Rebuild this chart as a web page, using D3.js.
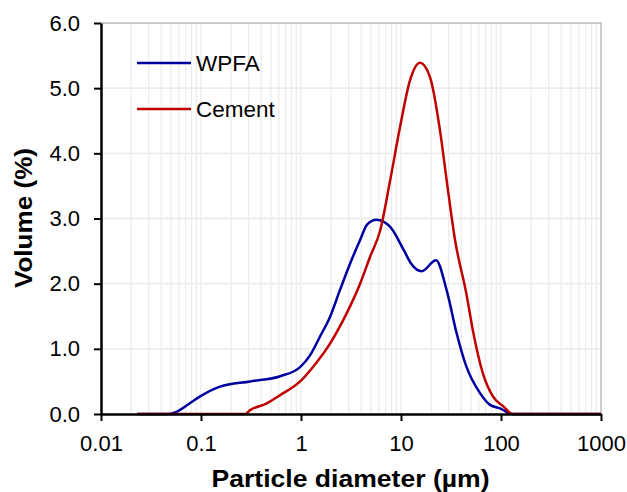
<!DOCTYPE html>
<html>
<head>
<meta charset="utf-8">
<script src="https://cdn.jsdelivr.net/npm/d3@7"></script>
<style>
  body { margin: 0; background: #fff; }
  text { font-family: "Liberation Sans", Arial, sans-serif; }
</style>
</head>
<body>
<div id="chart"></div>
<script>
// particle size distribution values
var wpfaSize = [0.023, 0.045, 0.056, 0.075, 0.098, 0.155, 0.31, 0.62, 0.98, 1.23, 1.55, 1.95, 2.45, 3.1, 3.9, 4.6, 5.7, 7.8, 10.7, 12.6, 16.1, 22.4, 28.6, 36, 45, 61.7, 77.6, 100, 130, 1000];
var wpfaVol  = [0, 0, 0.03, 0.15, 0.27, 0.42, 0.50, 0.58, 0.72, 0.90, 1.19, 1.49, 1.90, 2.31, 2.67, 2.91, 2.98, 2.87, 2.51, 2.31, 2.19, 2.36, 1.9, 1.24, 0.73, 0.32, 0.14, 0.08, 0, 0];

var cementSize = [0.023, 0.275, 0.31, 0.45, 0.62, 0.98, 1.33, 1.95, 2.85, 3.9, 4.9, 6.2, 7.8, 9.8, 12.3, 15.5, 19.5, 24.5, 28.6, 34.7, 45, 53, 66, 83, 107, 130, 1000];
var cementVol  = [0, 0, 0.06, 0.16, 0.29, 0.50, 0.73, 1.08, 1.54, 2.0, 2.41, 2.82, 3.59, 4.41, 5.12, 5.39, 5.17, 4.36, 3.59, 2.67, 1.85, 1.24, 0.62, 0.27, 0.11, 0, 0];

var xTicks = [0.01, 0.1, 1, 10, 100, 1000];
var yTicks = [0, 1, 2, 3, 4, 5, 6];

var series = [
    { name: "WPFA", color: "#0000a0", x: wpfaSize, y: wpfaVol },
    { name: "Cement", color: "#c00000", x: cementSize, y: cementVol }
];

var W = 627, H = 492;
var margin = { top: 23, right: 26, bottom: 78, left: 101 },
    width = W - margin.left - margin.right,
    height = H - margin.top - margin.bottom;

var svg = d3.select("#chart").append("svg")
    .attr("width", W)
    .attr("height", H);

var g = svg.append("g")
    .attr("transform", "translate(" + margin.left + "," + margin.top + ")");

var x = d3.scaleLog().domain([0.01, 1000]).range([0, width]);
var y = d3.scaleLinear().domain([0, 6]).range([height, 0]);

// minor vertical gridlines
var minor = [];
for (var e = -2; e < 3; e++) {
    for (var k = 1; k <= 9; k++) minor.push(k * Math.pow(10, e));
}
g.append("g").selectAll("line")
    .data(minor)
    .enter().append("line")
    .attr("x1", function (d) { return x(d); })
    .attr("x2", function (d) { return x(d); })
    .attr("y1", 0).attr("y2", height)
    .attr("stroke", "#ededed")
    .attr("stroke-width", 1.3);

// horizontal gridlines
g.append("g").selectAll("line")
    .data(yTicks.slice(1))
    .enter().append("line")
    .attr("x1", 0).attr("x2", width)
    .attr("y1", function (d) { return y(d); })
    .attr("y2", function (d) { return y(d); })
    .attr("stroke", "#ededed")
    .attr("stroke-width", 1.8);

// top / right border
g.append("path")
    .attr("d", "M0,0H" + width + "V" + height)
    .attr("fill", "none")
    .attr("stroke", "#bfbfbf")
    .attr("stroke-width", 1.5);

// curves
var line = d3.line()
    .x(function (d) { return x(d[0]); })
    .y(function (d) { return y(d[1]); })
    .curve(d3.curveMonotoneX);

g.selectAll(".series")
    .data(series)
    .enter().append("path")
    .attr("class", "series")
    .attr("fill", "none")
    .attr("stroke", function (d) { return d.color; })
    .attr("stroke-width", 2.5)
    .attr("d", function (d) { return line(d3.zip(d.x, d.y)); });

// axes
var xAxis = d3.axisBottom(x).tickValues(xTicks)
    .tickFormat(function (d) { return String(d); })
    .tickSize(7).tickSizeOuter(0).tickPadding(14);
var yAxis = d3.axisLeft(y).tickValues(yTicks)
    .tickFormat(d3.format(".1f"))
    .tickSize(7).tickSizeOuter(0).tickPadding(14);

var gx = g.append("g")
    .attr("transform", "translate(0," + height + ")")
    .call(xAxis);
var gy = g.append("g").call(yAxis);

[gx, gy].forEach(function (ax) {
    ax.select(".domain").attr("stroke", "#000").attr("stroke-width", 2.5);
    ax.selectAll(".tick line").attr("stroke", "#000").attr("stroke-width", 2);
    ax.selectAll(".tick text")
        .attr("fill", "#000")
        .style("font-size", "22px")
        .style("font-family", "'Liberation Sans', Arial, sans-serif");
});

// axis titles
svg.append("text")
    .attr("x", 350.5)
    .attr("y", 487)
    .attr("text-anchor", "middle")
    .attr("textLength", 278)
    .attr("lengthAdjust", "spacingAndGlyphs")
    .style("font-size", "23px")
    .style("font-weight", "bold")
    .text("Particle diameter (\u00b5m)");

svg.append("text")
    .attr("transform", "translate(32,218) rotate(-90)")
    .attr("text-anchor", "middle")
    .attr("textLength", 140)
    .attr("lengthAdjust", "spacingAndGlyphs")
    .style("font-size", "23px")
    .style("font-weight", "bold")
    .text("Volume (%)");

// legend
var legend = svg.append("g").selectAll("g")
    .data(series)
    .enter().append("g")
    .attr("transform", function (d, i) { return "translate(137," + (63 + i * 46) + ")"; });

legend.append("line")
    .attr("x1", 0).attr("x2", 54)
    .attr("stroke", function (d) { return d.color; })
    .attr("stroke-width", 2.5);

legend.append("text")
    .attr("x", 59)
    .attr("y", 8)
    .style("font-size", "22.5px")
    .text(function (d) { return d.name; });
</script>
</body>
</html>
